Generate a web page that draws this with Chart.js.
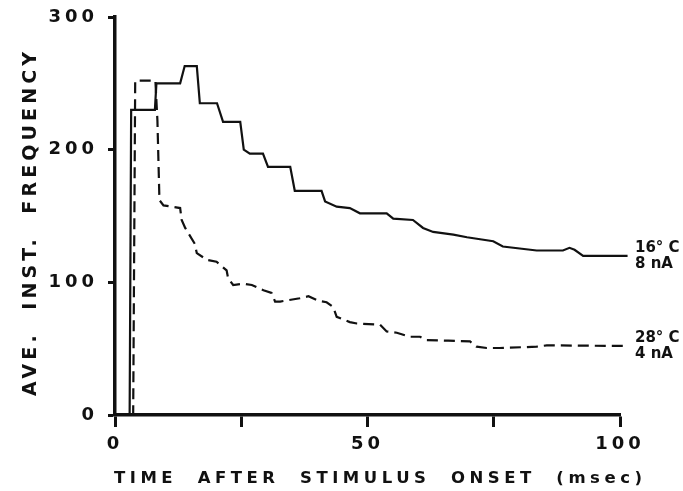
<!DOCTYPE html>
<html>
<head>
<meta charset="utf-8">
<script src="https://cdn.jsdelivr.net/npm/chart.js@4.4.1/dist/chart.umd.min.js"></script>
<style>
  html, body { margin: 0; padding: 0; background: #fff; }
  #chart { display: block; }
</style>
</head>
<body>
<canvas id="chart" width="683" height="491"></canvas>
<script>
// Average instantaneous frequency after stimulus onset, two recordings

const INK = '#111';
const FONT = '"DejaVu Sans", "Liberation Sans", sans-serif';

// 16 °C, 8 nA (solid trace)
const solidTime = [0, 2.9, 3.2, 7.9, 8.2, 12.9, 13.8, 16.2, 16.8, 20.2, 21.4, 24.8, 25.5, 26.7, 29.3,
  30.3, 34.7, 35.6, 40.9, 41.6, 43.9, 46.5, 48.5, 53.8, 55.1, 59.0, 61.0, 63.0, 67.0, 69.7, 72.3,
  74.9, 76.8, 83.5, 88.7, 90.0, 91.0, 92.7, 101.5];
const solidFreq = [0, 0, 230, 230, 250, 250, 263, 263, 235, 235, 221, 221, 200, 197, 197,
  187, 187, 169, 169, 161, 157, 156, 152, 152, 148, 147, 141, 138, 136, 134, 132.5,
  131, 127, 124, 124, 126, 124.5, 120, 120];

// 28 °C, 4 nA (dashed trace)
const dashedTime = [0, 3.6, 4.0, 8.0, 8.4, 8.8, 9.6, 12.9, 13.2, 13.9, 14.7, 15.8, 16.2, 18.2, 20.1,
  22.1, 22.4, 23.4, 25.4, 27.1, 29.4, 31.0, 31.7, 32.7, 36.6, 38.3, 40.3, 41.9, 43.2, 43.9, 46.5,
  47.9, 52.5, 53.8, 55.8, 58.4, 60.4, 61.7, 66.0, 70.3, 71.6, 73.6, 76.2, 83.5, 85.5, 101.5];
const dashedFreq = [0, 0, 252, 252, 222, 162, 158, 156, 147, 141, 136, 129, 122, 117, 115.5,
  109, 103, 98, 99, 98, 94, 92, 85.5, 85.5, 88, 89.5, 86, 85, 81.5, 74, 70,
  69, 68, 63, 62, 59, 59, 56.5, 56, 55.5, 51.5, 50.5, 50.5, 51.5, 52.5, 52];

const endLabels = [['16° C', '8 nA'], ['28° C', '4 nA']];
const xTitle = 'TIME  AFTER  STIMULUS  ONSET  (msec)';
const yTitle = 'AVE.  INST.  FREQUENCY';

const toPoints = (xs, ys) => xs.map((x, i) => ({ x: x, y: ys[i] }));

// spread text over a fixed span by adjusting letter spacing
function drawSpaced(ctx, text, left, baseline, span) {
  ctx.letterSpacing = '0px';
  const natural = ctx.measureText(text).width;
  const gap = (span - natural) / (text.length - 1);
  ctx.letterSpacing = gap + 'px';
  ctx.textAlign = 'left';
  ctx.fillText(text, left, baseline);
}

const figureText = {
  id: 'figureText',
  beforeDraw(chart) {
    // wide spacing for the tick numbers
    chart.ctx.letterSpacing = '4px';
  },
  afterDraw(chart) {
    const ctx = chart.ctx;
    const y = chart.scales.y;
    ctx.save();
    ctx.fillStyle = INK;
    ctx.textBaseline = 'alphabetic';

    ctx.font = 'bold 16.5px ' + FONT;
    drawSpaced(ctx, xTitle, 114, 483, 528);

    ctx.save();
    ctx.font = 'bold 19px ' + FONT;
    ctx.translate(36, 224);
    ctx.rotate(-Math.PI / 2);
    drawSpaced(ctx, yTitle, -172, 0, 344);
    ctx.restore();

    ctx.font = 'bold 15px ' + FONT;
    ctx.letterSpacing = '0px';
    ctx.textAlign = 'left';
    const ends = [solidFreq[solidFreq.length - 1], dashedFreq[dashedFreq.length - 1]];
    ends.forEach((v, i) => {
      const py = y.getPixelForValue(v);
      ctx.fillText(endLabels[i][0], 635, py - 4);
      ctx.fillText(endLabels[i][1], 635, py + 12);
    });
    ctx.restore();
    ctx.letterSpacing = '0px';
  }
};

const tickFont = { family: FONT, size: 18, weight: 'bold' };

new Chart(document.getElementById('chart'), {
  type: 'line',
  data: {
    datasets: [
      {
        data: toPoints(solidTime, solidFreq),
        borderColor: INK,
        borderWidth: 2.2,
        pointRadius: 0,
        tension: 0,
        clip: false
      },
      {
        data: toPoints(dashedTime, dashedFreq),
        borderColor: INK,
        borderWidth: 2.2,
        borderDash: [11, 6],
        pointRadius: 0,
        tension: 0,
        clip: false
      }
    ]
  },
  options: {
    responsive: false,
    animation: false,
    devicePixelRatio: 1,
    layout: { padding: { top: 17, right: 63, left: 0, bottom: 0 } },
    plugins: { legend: { display: false }, tooltip: { enabled: false } },
    scales: {
      x: {
        type: 'linear',
        min: 0,
        max: 100,
        afterFit: s => { s.height = 76; },
        ticks: {
          stepSize: 25,
          autoSkip: false,
          maxRotation: 0,
          padding: 7,
          color: INK,
          font: tickFont,
          callback: v => (v % 50 === 0 ? v : '')
        },
        grid: { drawOnChartArea: false, tickLength: 12, tickWidth: 3, tickColor: INK },
        border: { color: INK, width: 3.5 }
      },
      y: {
        min: 0,
        max: 300,
        afterFit: s => {
          s.width = 115;
          s.paddingTop = 0;
          s.paddingBottom = 0;
        },
        ticks: { stepSize: 100, padding: 10, color: INK, font: tickFont },
        grid: { drawOnChartArea: false, tickLength: 7, tickWidth: 3, tickColor: INK },
        border: { color: INK, width: 3.5 }
      }
    }
  },
  plugins: [figureText]
});
</script>
</body>
</html>
